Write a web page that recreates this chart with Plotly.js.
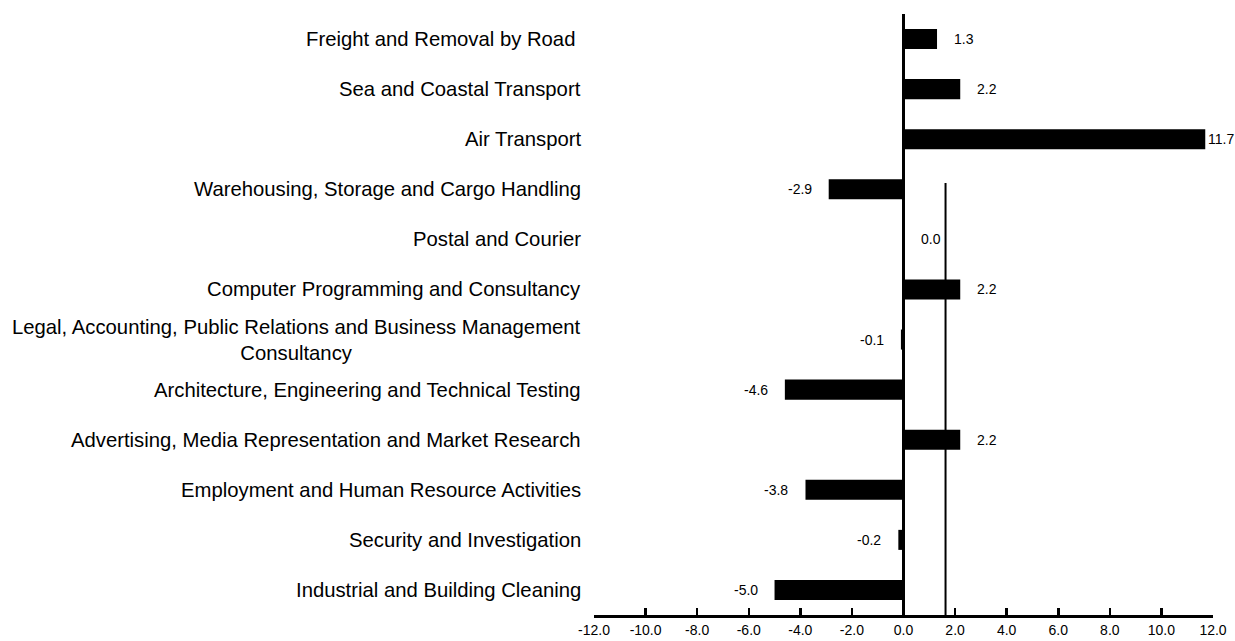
<!DOCTYPE html>
<html>
<head>
<meta charset="utf-8">
<script src="https://cdn.plot.ly/plotly-3.0.1.min.js"></script>
<style>
  html, body { margin: 0; padding: 0; background: #ffffff; }
  #chart { width: 1235px; height: 641px; }
</style>
</head>
<body>
<div id="chart"></div>
<script>
// ---- data ----
var categories = [
  "Freight and Removal by Road ",
  "Sea and Coastal Transport",
  "Air Transport",
  "Warehousing, Storage and Cargo Handling",
  "Postal and Courier",
  "Computer Programming and Consultancy",
  "Legal, Accounting, Public Relations and Business Management<br>Consultancy",
  "Architecture, Engineering and Technical Testing",
  "Advertising, Media Representation and Market Research",
  "Employment and Human Resource Activities",
  "Security and Investigation",
  "Industrial and Building Cleaning"
];
var values = [1.3, 2.2, 11.7, -2.9, 0.0, 2.2, -0.1, -4.6, 2.2, -3.8, -0.2, -5.0];
var referenceLine = 1.63;
var xTickValues = [-12, -10, -8, -6, -4, -2, 0, 2, 4, 6, 8, 10, 12];

// ---- chart ----
var FONT = '"Liberation Sans", Arial, Helvetica, sans-serif';
var idx = categories.map(function (c, i) { return i; });

var trace = {
  type: 'bar',
  orientation: 'h',
  x: values,
  y: idx,
  marker: { color: '#000000', line: { width: 0 } },
  hoverinfo: 'x',
  showlegend: false
};

var annotations = [];
categories.forEach(function (c, i) {
  annotations.push({
    xref: 'paper', yref: 'y',
    x: 0, y: i,
    xanchor: 'right', yanchor: 'middle',
    xshift: -11,
    align: 'center',
    text: c.replace(/ $/, '\u00a0'),
    showarrow: false,
    font: { family: FONT, size: 20.3, color: '#000000' }
  });
});
values.forEach(function (v, i) {
  var pos = v >= 0;
  var gap = (v > 10) ? 1 : 15;
  annotations.push({
    xref: 'x', yref: 'y',
    x: v, y: i,
    xanchor: pos ? 'left' : 'right', yanchor: 'middle',
    xshift: pos ? gap : -gap,
    text: v.toFixed(1),
    showarrow: false,
    font: { family: FONT, size: 14, color: '#000000' }
  });
});

var layout = {
  width: 1235,
  height: 641,
  margin: { l: 594, r: 22, t: 14, b: 26, pad: 0 },
  paper_bgcolor: '#ffffff',
  plot_bgcolor: '#ffffff',
  font: { family: FONT, size: 14, color: '#000000' },
  bargap: 0.6,
  xaxis: {
    range: [-12, 12],
    tickvals: xTickValues,
    ticktext: xTickValues.map(function (t) { return t.toFixed(1); }),
    ticks: 'inside',
    ticklen: 7,
    tickwidth: 2.5,
    tickcolor: '#000000',
    showline: true,
    linecolor: '#000000',
    linewidth: 3,
    showgrid: false,
    zeroline: true,
    zerolinecolor: '#000000',
    zerolinewidth: 3,
    tickfont: { family: FONT, size: 14, color: '#000000' },
    fixedrange: true
  },
  yaxis: {
    range: [categories.length - 0.5, -0.5],
    showticklabels: false,
    ticks: '',
    showline: false,
    showgrid: false,
    zeroline: false,
    fixedrange: true
  },
  shapes: [{
    type: 'line',
    xref: 'x', yref: 'paper',
    x0: referenceLine, x1: referenceLine,
    y0: 0, y1: 0.719,
    line: { color: '#000000', width: 2 }
  }],
  annotations: annotations
};

Plotly.newPlot('chart', [trace], layout, { displayModeBar: false, staticPlot: true });
</script>
</body>
</html>
